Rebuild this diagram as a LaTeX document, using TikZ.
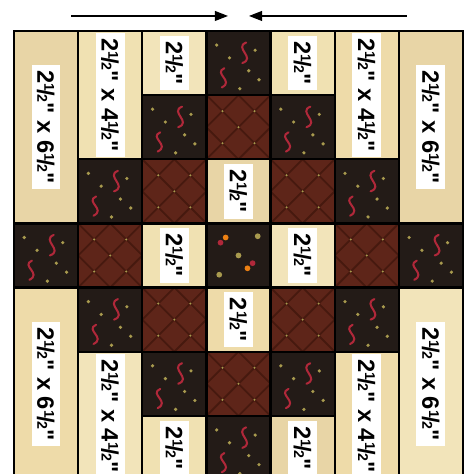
\documentclass[tikz,border=0pt]{standalone}
\usepackage{fontspec}
\setmainfont{Liberation Sans}
\newfontfamily\tagfont{Liberation Sans}
\usetikzlibrary{arrows.meta}

\definecolor{leafcream}{HTML}{E8D5A6}
\definecolor{ferncream}{HTML}{F0E1B2}
\definecolor{crosscream}{HTML}{F2E4BA}
\definecolor{dashcream}{HTML}{EEDBA9}
\definecolor{darkfab}{HTML}{231B17}
\definecolor{redfab}{HTML}{5E2519}
\definecolor{redmotif}{HTML}{46190F}
\definecolor{sprig}{HTML}{A89A4E}
\definecolor{squigred}{HTML}{B0283A}

\newcommand\hlf{\raisebox{.29em}{\fontsize{6.3}{6.3}\selectfont 1}\kern-.07em/\kern-.07em{\fontsize{6.3}{6.3}\selectfont 2}}

\tikzset{
  cellline/.style={draw=black, line width=1pt},
  sizetag/.style={fill=white, rotate=-90, inner xsep=2.5pt, inner ysep=2.6pt,
    text height=7.6pt, text depth=0pt, font=\tagfont\fontsize{10.5}{10.5}\selectfont\bfseries},
  squig/.style={draw=squigred, line width=0.9pt, line cap=round},
  guide/.style={line width=0.5pt, -{Triangle[length=5.8pt,width=4.4pt]}}
}

\begin{document}
\begin{tikzpicture}[x=1cm, y=-1cm]
    \useasboundingbox (-0.218,-0.483) rectangle (7.016,6.907);
    \clip (-0.218,-0.483) rectangle (7.016,6.907);
    \fill[white] (-0.218,-0.483) rectangle (7.016,6.907);

    % Pressing arrows
    \coordinate (lstart) at (0.889,-0.234);
    \coordinate (ltip) at (3.336,-0.234);
    \coordinate (rstart) at (6.127,-0.234);
    \coordinate (rtip) at (3.664,-0.234);
    \draw[guide] (lstart) -- (ltip);
    \draw[guide] (rstart) -- (rtip);

    % Dark squares
    \foreach \c/\r in {0/3, 1/2, 1/4, 2/1, 2/5, 3/0, 3/6, 4/1, 4/5, 5/2, 5/4, 6/3}{
        \begin{scope}[shift={(\c,\r)}]
            \fill[darkfab] (0,0) rectangle (1,1);
            \draw[squig] (0.62,0.18) .. controls (0.42,0.26) and (0.78,0.42) .. (0.56,0.5);
            \draw[squig] (0.28,0.58) .. controls (0.1,0.66) and (0.44,0.78) .. (0.24,0.88);
            \foreach \dx/\dy in {0.76/0.3, 0.82/0.76, 0.36/0.42, 0.16/0.22, 0.52/0.9, 0.66/0.62}
                \fill[sprig] (\dx,\dy) circle (0.028);
            \draw[cellline] (0,0) rectangle (1,1);
        \end{scope}}

    % Red squares
    \foreach \c/\r in {1/3, 2/2, 2/4, 3/1, 3/5, 4/2, 4/4, 5/3}{
        \begin{scope}[shift={(\c,\r)}]
            \fill[redfab] (0,0) rectangle (1,1);
            \draw[redmotif, line width=0.8pt] (0,0) -- (1,1) (1,0) -- (0,1)
                (0.5,0) -- (1,0.5) -- (0.5,1) -- (0,0.5) -- cycle;
            \foreach \dx/\dy in {0.25/0.25, 0.75/0.25, 0.25/0.75, 0.75/0.75, 0.5/0.5}
                \fill[sprig] (\dx,\dy) circle (0.018);
            \draw[cellline] (0,0) rectangle (1,1);
        \end{scope}}

    % Centre square
    \begin{scope}[shift={(3,3)}]
        \fill[darkfab] (0,0) rectangle (1,1);
        \foreach \dx/\dy/\f in {0.22/0.3/squigred, 0.3/0.22/orange!70!brown, 0.72/0.62/squigred,
                                0.64/0.7/orange!70!brown, 0.8/0.2/sprig, 0.2/0.8/sprig, 0.5/0.5/sprig}
            \fill[\f] (\dx,\dy) circle (0.045);
        \draw[cellline] (0,0) rectangle (1,1);
    \end{scope}

    % Light squares
    \foreach \c/\r/\f in {2/0/crosscream, 4/0/ferncream, 3/2/leafcream, 2/3/ferncream,
                          4/3/crosscream, 3/4/dashcream, 2/6/ferncream, 4/6/leafcream}
        \draw[cellline, fill=\f] (\c,\r) rectangle ++(1,1) node[sizetag, pos=.5] (sq\c\r) {2\hlf"};

    % Long strips
    \foreach \c/\r/\h/\t/\f in {0/0/3/6/leafcream, 6/0/3/6/leafcream, 0/4/3/6/dashcream, 6/4/3/6/crosscream,
                                1/0/2/4/ferncream, 5/0/2/4/dashcream, 1/5/2/4/crosscream, 5/5/2/4/dashcream}
        \draw[cellline, fill=\f] (\c,\r) rectangle ++(1,\h) node[sizetag, pos=.5] (st\c\r) {2\hlf" x \t\hlf"};
\end{tikzpicture}
\end{document}
